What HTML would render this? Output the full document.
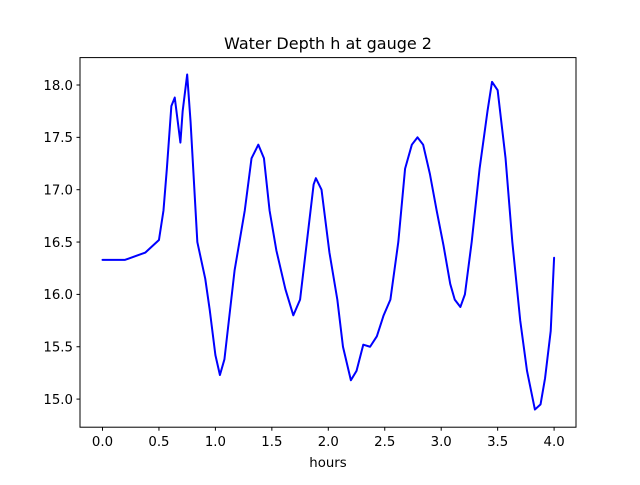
<!DOCTYPE html>
<html><head><meta charset="utf-8"><style>
body{margin:0;background:#fff;}
svg text{font-family:"DejaVu Sans","Liberation Sans",sans-serif;}
</style></head><body>
<svg id="chart" width="640" height="480" xmlns="http://www.w3.org/2000/svg">
<rect width="640" height="480" fill="#fff"/>
<text x="328" y="49" font-size="16" text-anchor="middle">Water Depth h at gauge 2</text>
<g id="ticks"></g>
<polyline id="series" fill="none" stroke="#0000ff" stroke-width="2" stroke-linejoin="round" stroke-linecap="round"/>
<rect x="80" y="57.6" width="496" height="369.6" fill="none" stroke="#000" stroke-width="1"/>
<text x="328" y="467" font-size="13.3" text-anchor="middle">hours</text>
</svg>
<script>
const hours=[0,0.2,0.38,0.5,0.54,0.57,0.61,0.64,0.69,0.71,0.75,0.78,0.84,0.91,0.95,1.0,1.04,1.08,1.17,1.26,1.32,1.38,1.43,1.48,1.54,1.62,1.69,1.75,1.81,1.87,1.89,1.94,2.01,2.08,2.13,2.2,2.25,2.31,2.37,2.43,2.49,2.55,2.62,2.68,2.74,2.79,2.84,2.9,2.96,3.02,3.08,3.12,3.17,3.21,3.27,3.34,3.41,3.45,3.5,3.57,3.63,3.7,3.76,3.83,3.88,3.92,3.97,4.0];
const depth=[16.33,16.33,16.4,16.52,16.8,17.2,17.8,17.88,17.45,17.75,18.1,17.65,16.5,16.15,15.85,15.42,15.23,15.38,16.23,16.8,17.3,17.43,17.3,16.8,16.42,16.05,15.8,15.95,16.5,17.05,17.11,17.0,16.4,15.95,15.5,15.18,15.27,15.52,15.5,15.6,15.8,15.95,16.5,17.2,17.43,17.5,17.43,17.15,16.8,16.47,16.1,15.95,15.88,16.0,16.5,17.2,17.75,18.03,17.95,17.3,16.5,15.75,15.27,14.9,14.95,15.2,15.65,16.35];
const xTicks=[0,0.5,1,1.5,2,2.5,3,3.5,4];
const xTickLabels=["0.0","0.5","1.0","1.5","2.0","2.5","3.0","3.5","4.0"];
const yTicks=[15,15.5,16,16.5,17,17.5,18];
const yTickLabels=["15.0","15.5","16.0","16.5","17.0","17.5","18.0"];
const X=v=>102.5+v*112.9;
const Y=v=>85+(18-v)*104.7;
const NS="http://www.w3.org/2000/svg";
const g=document.getElementById('ticks');
function mk(t,a){const e=document.createElementNS(NS,t);for(const k in a)e.setAttribute(k,a[k]);g.appendChild(e);return e;}
xTicks.forEach((v,i)=>{
 const l=mk('line',{x1:X(v),x2:X(v),y1:427.2,y2:430.7,stroke:'#000'});
 
 
 const t=mk('text',{x:X(v),y:446,'font-size':13.3,'text-anchor':'middle'});
 t.textContent=xTickLabels[i];
 
 
});
yTicks.forEach((v,i)=>{
 const l=mk('line',{x1:76.5,x2:80,y1:Y(v),y2:Y(v),stroke:'#000'});
 
 
 const t=mk('text',{x:73,y:Y(v)+4.8,'font-size':13.3,'text-anchor':'end'});
 t.textContent=yTickLabels[i];
 
 
});
document.getElementById('series').setAttribute('points',hours.map((h,i)=>X(h)+','+Y(depth[i])).join(' '));
</script>
</body></html>
